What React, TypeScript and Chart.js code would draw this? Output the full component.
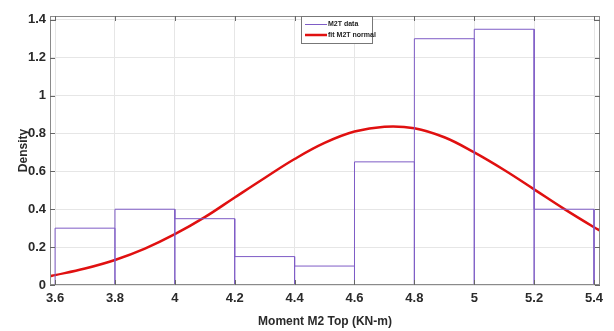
import React, { useEffect, useRef } from "react";
import { Chart, registerables } from "chart.js";

Chart.register(...registerables);

// Histogram bins (edges) and densities
const binEdges = [3.6, 3.8, 4.0, 4.2, 4.4, 4.6, 4.8, 5.0, 5.2, 5.4];
const densities = [0.3, 0.4, 0.35, 0.15, 0.1, 0.65, 1.3, 1.35, 0.4];

// Fitted normal curve
const fitX = [3.583, 3.6, 3.7, 3.8, 3.9, 4.0, 4.1, 4.2, 4.3, 4.4, 4.5, 4.6, 4.7, 4.8, 4.9, 5.0, 5.1, 5.2, 5.3, 5.4, 5.42];
const fitY = [0.047, 0.052, 0.087, 0.132, 0.192, 0.268, 0.358, 0.462, 0.565, 0.665, 0.75, 0.81, 0.836, 0.828, 0.78, 0.70, 0.607, 0.505, 0.402, 0.305, 0.288];

const xTicksMin = 3.583;
const xTicksMax = 5.42;
const yMin = 0;
const yMax = 1.42;

const legendLabels = ["M2T data", "fit M2T normal"];
const xTitle = "Moment M2 Top (KN-m)";
const yTitle = "Density";

const PURPLE = "#7e5cc6";
const RED = "#e01010";
const FONT = "'Liberation Sans Narrow', 'Liberation Sans', Arial, sans-serif";

const fmt = (v: number) => String(Math.round(v * 10) / 10);

export default function App() {
  const ref = useRef<HTMLCanvasElement | null>(null);

  useEffect(() => {
    document.body.style.margin = "0";
    const canvas = ref.current!;
    // histogram outline built from bins
    const outline: { x: number; y: number }[] = [];
    for (let i = 0; i < densities.length; i++) {
      outline.push({ x: binEdges[i], y: 0 });
      outline.push({ x: binEdges[i], y: densities[i] });
      outline.push({ x: binEdges[i + 1], y: densities[i] });
      outline.push({ x: binEdges[i + 1], y: 0 });
    }
    const fit = fitX.map((x, i) => ({ x, y: fitY[i] }));

    const overlay = {
      id: "overlay",
      afterDraw(chart: any) {
        const ctx = chart.ctx;
        const ca = chart.chartArea;
        const xs = chart.scales.x;
        const ys = chart.scales.y;
        ctx.save();
        // border
        ctx.strokeStyle = "#8a8a8a";
        ctx.lineWidth = 1;
        ctx.strokeRect(ca.left + 0.5, ca.top + 0.5, ca.right - ca.left - 1, ca.bottom - ca.top - 1);
        // inward ticks
        ctx.strokeStyle = "#666";
        ctx.beginPath();
        xs.ticks.forEach((t: any) => {
          const px = Math.round(xs.getPixelForValue(t.value)) + 0.5;
          ctx.moveTo(px, ca.bottom);
          ctx.lineTo(px, ca.bottom - 5);
          ctx.moveTo(px, ca.top);
          ctx.lineTo(px, ca.top + 5);
        });
        ys.ticks.forEach((t: any) => {
          const py = Math.round(ys.getPixelForValue(t.value)) + 0.5;
          ctx.moveTo(ca.left, py);
          ctx.lineTo(ca.left + 5, py);
          ctx.moveTo(ca.right, py);
          ctx.lineTo(ca.right - 5, py);
        });
        ctx.stroke();
        // legend box
        const lx = 301, ly = 16, lw = 71, lh = 27;
        ctx.fillStyle = "#fff";
        ctx.fillRect(lx, ly, lw, lh);
        ctx.strokeStyle = "#777";
        ctx.strokeRect(lx + 0.5, ly + 0.5, lw, lh);
        ctx.lineWidth = 1;
        ctx.strokeStyle = PURPLE;
        ctx.beginPath();
        ctx.moveTo(305, 24.5);
        ctx.lineTo(327, 24.5);
        ctx.stroke();
        ctx.lineWidth = 2.5;
        ctx.strokeStyle = RED;
        ctx.beginPath();
        ctx.moveTo(305, 35);
        ctx.lineTo(327, 35);
        ctx.stroke();
        ctx.fillStyle = "#222";
        ctx.font = "bold 7px " + FONT;
        ctx.textBaseline = "middle";
        ctx.textAlign = "left";
        ctx.fillText(legendLabels[0], 328, 24.5);
        ctx.fillText(legendLabels[1], 328, 35);
        ctx.restore();
      },
    };

    const chart = new Chart(canvas, {
      type: "line",
      data: {
        datasets: [
          {
            label: legendLabels[0],
            data: outline,
            borderColor: PURPLE,
            borderWidth: 1,
            pointRadius: 0,
            tension: 0,
            fill: false,
          },
          {
            label: legendLabels[1],
            data: fit,
            borderColor: RED,
            borderWidth: 2.5,
            pointRadius: 0,
            tension: 0.4,
            fill: false,
          },
        ],
      },
      options: {
        animation: false,
        responsive: false,
        layout: { padding: { top: 16, right: 14, left: 0, bottom: 0 } },
        plugins: { legend: { display: false }, tooltip: { enabled: false } },
        scales: {
          x: {
            type: "linear",
            min: xTicksMin,
            max: xTicksMax,
            ticks: {
              stepSize: 0.2,
              includeBounds: false,
              color: "#2a2a2a",
              font: { family: FONT, size: 13, weight: "bold" },
              padding: 6,
              maxRotation: 0,
              callback: (v: any) => fmt(Number(v)),
            },
            grid: { color: "#e6e6e6", drawTicks: false },
            border: { display: false },
            title: {
              display: true,
              text: xTitle,
              color: "#2a2a2a",
              font: { family: FONT, size: 12, weight: "bold" },
              padding: { top: 0, bottom: 2 },
            },
            afterFit(scale: any) {
              scale.height = 46;
            },
          },
          y: {
            min: yMin,
            max: yMax,
            ticks: {
              stepSize: 0.2,
              includeBounds: false,
              color: "#2a2a2a",
              font: { family: FONT, size: 13, weight: "bold" },
              padding: 4,
              callback: (v: any) => fmt(Number(v)),
            },
            grid: { color: "#e6e6e6", drawTicks: false },
            border: { display: false },
            title: {
              display: true,
              text: yTitle,
              color: "#2a2a2a",
              font: { family: FONT, size: 12, weight: "bold" },
              padding: { top: 16, bottom: 0 },
            },
            afterFit(scale: any) {
              scale.width = 50;
            },
          },
        },
      },
      plugins: [overlay],
    } as any);
    return () => chart.destroy();
  }, []);

  return (
    <div style={{ width: 614, height: 331 }}>
      <canvas ref={ref} width={614} height={331} />
    </div>
  );
}
